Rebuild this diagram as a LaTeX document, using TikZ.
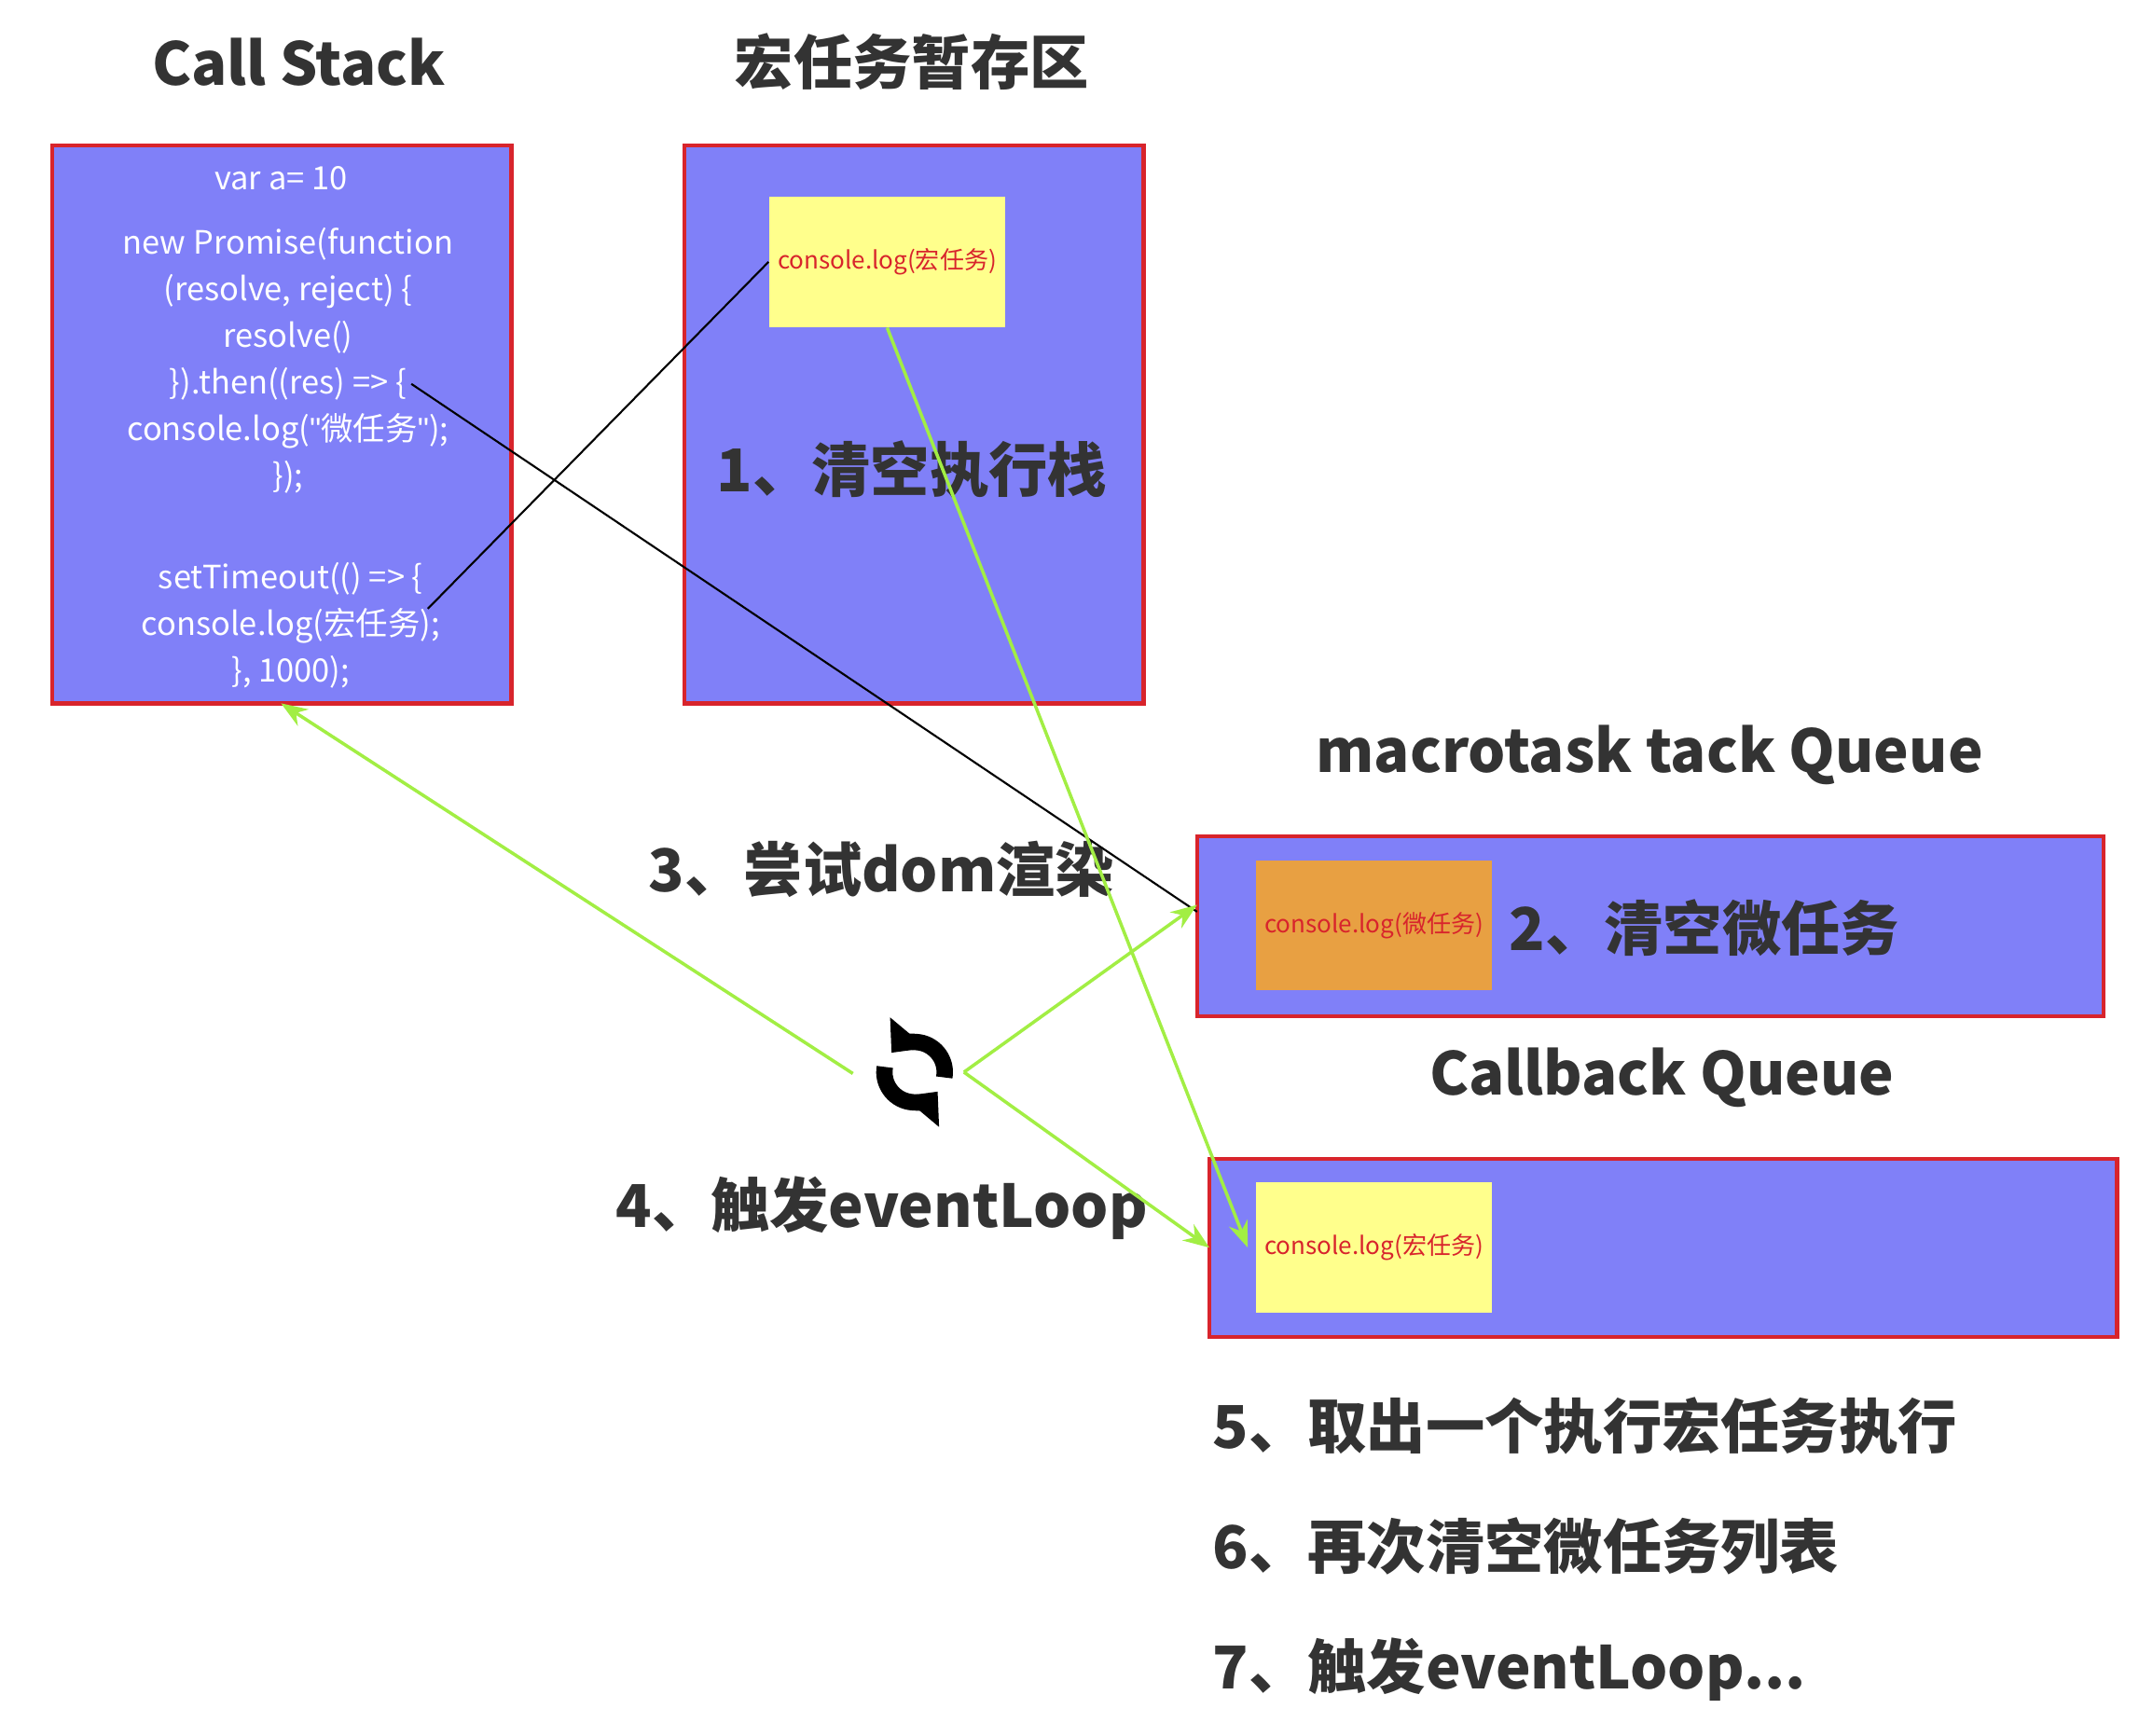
\documentclass[tikz,border=0pt]{standalone}
\usepackage{fontspec}
\setmainfont{Noto Sans CJK SC}
\newfontfamily\latinfont{Liberation Sans}
\usetikzlibrary{arrows.meta}
\definecolor{boxblue}{HTML}{8080F8}
\definecolor{boxred}{HTML}{D8242C}
\definecolor{note}{HTML}{FFFF8C}
\definecolor{orange1}{HTML}{E8A042}
\definecolor{green1}{HTML}{A2EE44}
\definecolor{dark}{HTML}{333333}
\tikzset{
	area/.style={draw=boxred, fill=boxblue, line width=1.2pt},
	task/.style={draw=none, inner sep=0pt, font=\fontsize{7.4}{9}\selectfont, text=boxred},
	title/.style={font=\fontsize{18}{22}\selectfont\bfseries, text=dark},
	stepline/.style={font=\fontsize{18}{22}\selectfont\bfseries, text=dark},
	code/.style={font=\fontsize{9.8}{14.2}\selectfont, text=white, align=center},
	flow/.style={green1, line width=1pt, -{Stealth[length=8pt]}},
}
\newcommand{\dq}{{\latinfont\symbol{34}}}
\begin{document}
\begin{tikzpicture}[x=0.0147cm, y=-0.0147cm]
	\useasboundingbox (0,0) rectangle (1560,1266);
	% titles
	\node[title] (tstack) at (218,45) {Call Stack};
	\node[title] (tstore) at (665,45) {宏任务暂存区};
	\node[title] (tmacro) at (1203,551) {macrotask tack Queue};
	\node[title] (tcb) at (1212,786) {Callback Queue};
	% areas
	\draw[area] (38,106) rectangle (373,513);
	\draw[area] (499,106) rectangle (834,513);
	\draw[area] (873,610) rectangle (1534,741);
	\draw[area] (882,845) rectangle (1544,975);
	% code in call stack
	\node[code] (l1) at (205,130) {var a= 10};
	\node[code] (l2) at (210,263) {new Promise(function\\(resolve, reject) \{\\resolve()\\\}).then((res) => \{\\console.log(\dq 微任务\dq);\\\});};
	\node[code] (l3) at (212,456) {setTimeout(() => \{\\console.log(宏任务);\\\}, 1000);};
	% tasks
	\node[task, fill=note, minimum width=172*0.0147cm, minimum height=95*0.0147cm] (macro1) at (647,191) {console.log(宏任务)};
	\node[task, fill=orange1, minimum width=172*0.0147cm, minimum height=95*0.0147cm] (micro1) at (1002,675) {console.log(微任务)};
	\node[task, fill=note, minimum width=172*0.0147cm, minimum height=95*0.0147cm] (macro2) at (1002,910) {console.log(宏任务)};
	% steps
	\node[stepline] (s1) at (665,342) {1、清空执行栈};
	\node[stepline] (s2) at (1243,677) {2、清空微任务};
	\node[stepline] (s3) at (643,634) {3、尝试dom渲染};
	\node[stepline] (s4) at (643,881) {4、触发eventLoop};
	\node[stepline, anchor=west] (s5) at (876,1040) {5、取出一个执行宏任务执行};
	\node[stepline, anchor=west] (s6) at (876,1128) {6、再次清空微任务列表};
	\node[stepline, anchor=west] (s7) at (876,1218) {7、触发eventLoop...};
	% loop icon
	\coordinate (loop) at (667,782);
	\draw[line width=5pt, -{Triangle[length=8pt,width=14pt]}] ([shift={(190:22)}]loop) arc[start angle=190, end angle=40, radius=22];
	\draw[line width=5pt, -{Triangle[length=8pt,width=14pt]}] ([shift={(10:22)}]loop) arc[start angle=10, end angle=-140, radius=22];
	% connectors
	\coordinate (settime) at (312,444);
	\coordinate (then) at (300,280);
	\coordinate (stackbot) at (205,513);
	\coordinate (loopl) at (622,783);
	\coordinate (loopr) at (703,782);
	\coordinate (microin) at (873,660);
	\coordinate (cbin) at (882,910);
	\draw[black, line width=0.6pt] (settime) -- (macro1.west);
	\draw[black, line width=0.6pt] (then) -- (873,665);
	\draw[flow] (macro1.south) -- (910,910);
	\draw[flow] (loopl) -- (stackbot);
	\draw[flow] (loopr) -- (microin);
	\draw[flow] (loopr) -- (cbin);
\end{tikzpicture}
\end{document}
